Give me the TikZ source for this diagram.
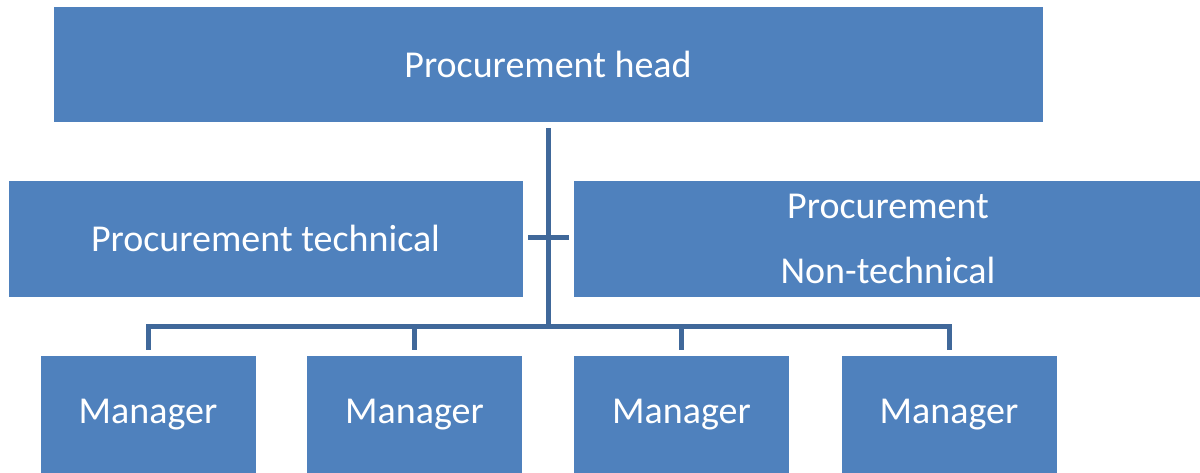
\documentclass[tikz,border=0pt]{standalone}
\usepackage{fontspec}
\setmainfont{Carlito}
\usetikzlibrary{calc}
\definecolor{boxblue}{RGB}{79,129,189}
\definecolor{linkblue}{RGB}{64,104,154}

\begin{document}
\begin{tikzpicture}[x=0.5pt, y=0.5pt,
    box/.style={fill=boxblue, draw=white, line width=0.4pt, text=white, inner sep=0pt,
        font=\fontsize{19}{32.5}\selectfont, align=center},
    link/.style={linkblue, line width=2.5pt}]

    \clip (0,0) rectangle (1200,472);

    \node[box, minimum width=495pt, minimum height=58pt] (head) at (548,408) {Procurement head};
    \node[box, minimum width=257.5pt, minimum height=58.5pt] (tech) at (265.5,233.5) {Procurement technical};
    \node[box, minimum width=315pt, minimum height=58.5pt] (nontech) at (888,233.5) {Procurement\\Non-technical};

    \node[box, minimum width=108pt, minimum height=60pt] (m1) at (148,57) {Manager};
    \node[box, minimum width=108pt, minimum height=60pt] (m2) at (414.5,57) {Manager};
    \node[box, minimum width=108pt, minimum height=60pt] (m3) at (681.5,57) {Manager};
    \node[box, minimum width=108pt, minimum height=60pt] (m4) at (949,57) {Manager};

    \coordinate (hub) at (548,146);
    \coordinate (cbl) at (528,234);
    \coordinate (cbr) at (569,234);

    \draw[link, shorten <=3pt] (head) -- (hub);
    \draw[link] (cbl) -- (cbr);
    \draw[link, shorten <=2.5pt, shorten >=2.5pt] (m1) |- (hub) -| (m4);
    \draw[link, shorten <=2.5pt] (m2) |- (hub);
    \draw[link, shorten <=2.5pt] (m3) |- (hub);

\end{tikzpicture}
\end{document}
